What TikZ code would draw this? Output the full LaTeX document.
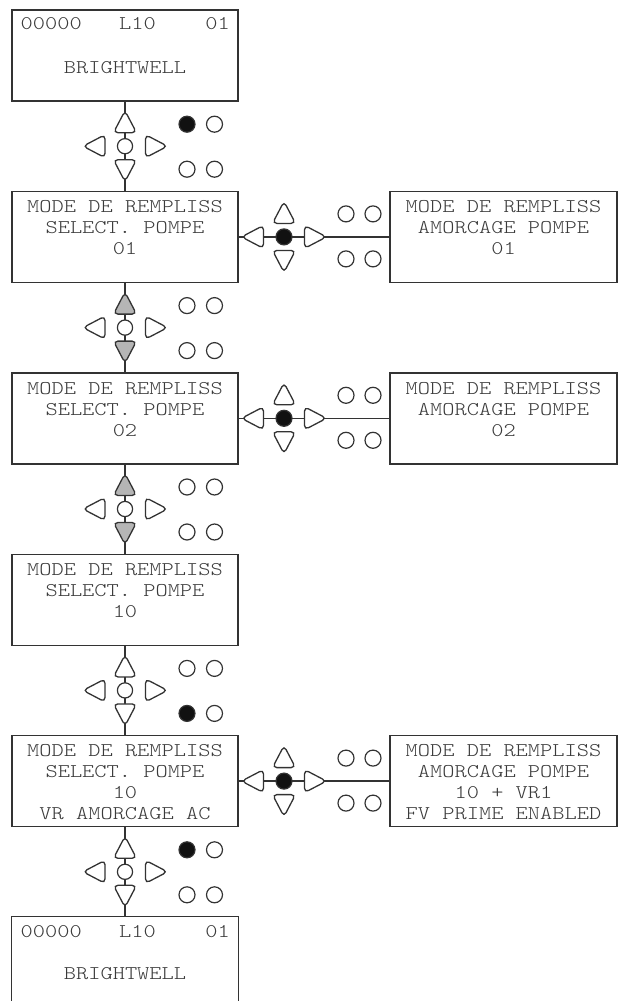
\documentclass[tikz,border=0pt]{standalone}
\usepackage{fontspec}
\newfontfamily\lcdfont[FakeStretch=1.2]{Latin Modern Mono Light}
\usetikzlibrary{calc}
\definecolor{linec}{HTML}{333333}
\definecolor{textc}{HTML}{3A3A3A}
\definecolor{keygray}{HTML}{B5B5B5}
\definecolor{ledon}{HTML}{111111}
\tikzset{
  box/.style={draw=linec, line width=0.7pt, minimum width=113pt, minimum height=45.5pt, inner sep=0pt},
  openbox/.style={box, draw=none},
  lcd/.style={font=\lcdfont\fontsize{9.7pt}{10.5pt}\selectfont, text=textc, align=center, inner sep=0pt},
  conn/.style={draw=linec, line width=0.65pt},
  keyc/.style={circle, draw=linec, line width=0.6pt, fill=white, minimum size=7.6pt, inner sep=0pt},
  led/.style={circle, draw=linec, line width=0.6pt, minimum size=8pt, inner sep=0pt},
  keyshape/.style={draw=linec, line width=0.65pt, rounded corners=2.2pt},
  pics/uarr/.style={code={\path[keyshape, fill=#1] (0,9.5) -- (11.5,9.5) -- (0,-12.5) -- (-11.5,9.5) -- cycle;}},
  pics/uarr/.default=white,
  pics/darr/.style={code={\path[keyshape, fill=#1] (0,-9.5) -- (11.5,-9.5) -- (0,12.5) -- (-11.5,-9.5) -- cycle;}},
  pics/darr/.default=white,
  pics/larr/.style={code={\path[keyshape, fill=#1] (9.5,0) -- (9.5,11.5) -- (-12.5,0) -- (9.5,-11.5) -- cycle;}},
  pics/larr/.default=white,
  pics/rarr/.style={code={\path[keyshape, fill=#1] (-9.5,0) -- (-9.5,11.5) -- (12.5,0) -- (-9.5,-11.5) -- cycle;}},
  pics/rarr/.default=white
}
% vertical keypad: #1 name, #2 y of centre key, #3 fill of up/down keys, #4-#7 LED fills
\newcommand{\vkeypad}[7]{%
  \pic at (125,#2-23) {uarr=#3};
  \pic at (125,#2+23) {darr=#3};
  \pic at (95.5,#2) {larr};
  \pic at (155,#2) {rarr};
  \node[keyc] (#1c) at (125,#2) {};
  \node[led, fill=#4] (#1la) at (187,#2-22) {};
  \node[led, fill=#5] (#1lb) at (214.5,#2-22) {};
  \node[led, fill=#6] (#1lc) at (187,#2+23) {};
  \node[led, fill=#7] (#1ld) at (214.5,#2+23) {};
}
% horizontal keypad: #1 name, #2 y of the connector
\newcommand{\hkeypad}[2]{%
  \pic at (254,#2) {larr};
  \pic at (314,#2) {rarr};
  \pic at (284,#2-23) {uarr};
  \pic at (284,#2+23) {darr};
  \node[keyc, fill=ledon, minimum size=8pt] (#1c) at (284,#2) {};
  \node[led, fill=white] (#1la) at (346,#2-23) {};
  \node[led, fill=white] (#1lb) at (373,#2-23) {};
  \node[led, fill=white] (#1lc) at (346,#2+22) {};
  \node[led, fill=white] (#1ld) at (373,#2+22) {};
}
\begin{document}
\begin{tikzpicture}[x=0.5pt, y=-0.5pt]
\useasboundingbox (0,0) rectangle (623,1001);
\coordinate (bot) at (0,1001);

% boxes
\node[box] (b1) at (125,55.5) {};
\node[box] (b2) at (125,236.9) {};
\node[box] (b3) at (125,418.3) {};
\node[box] (b4) at (125,599.7) {};
\node[box] (b5) at (125,781.1) {};
\node[openbox] (b6) at (125,962.5) {};
\node[box, minimum width=113.5pt] (r2) at (503.5,236.9) {};
\node[box, minimum width=113.5pt] (r3) at (503.5,418.3) {};
\node[box, minimum width=113.5pt] (r5) at (503.5,781.1) {};
\draw[draw=linec, line width=0.7pt] (b6.west |- bot) -- (b6.north west) -- (b6.north east) -- (b6.east |- bot);

% connectors
\draw[conn] (b1.south) -- (b2.north);
\draw[conn] (b2.south) -- (b3.north);
\draw[conn] (b3.south) -- (b4.north);
\draw[conn] (b4.south) -- (b5.north);
\draw[conn] (b5.south) -- (b6.north);
\draw[conn] (b2.east) -- (r2.west);
\draw[conn] (b3.east) -- (r3.west);
\draw[conn] (b5.east) -- (r5.west);

% keypads
\vkeypad{ka}{146.2}{white}{ledon}{white}{white}{white}
\vkeypad{kb}{327.6}{keygray}{white}{white}{white}{white}
\vkeypad{kc}{509.0}{keygray}{white}{white}{white}{white}
\vkeypad{kd}{690.4}{white}{white}{white}{ledon}{white}
\vkeypad{ke}{871.8}{white}{ledon}{white}{white}{white}
\hkeypad{ha}{236.9}
\hkeypad{hb}{418.3}
\hkeypad{hc}{781.1}

% texts
\node[lcd, anchor=west] (t1a) at ($(b1.north west)+(9,14)$) {00000};
\node[lcd] (t1b) at ($(b1.north)+(12.4,14)$) {L10};
\node[lcd, anchor=east] (t1c) at ($(b1.north east)+(-8.5,14)$) {01};
\node[lcd] (t1d) at ($(b1.north)+(0,58.5)$) {BRIGHTWELL};

\node[lcd, anchor=north] (t2) at ($(b2.north)+(0,9.5)$) {MODE DE REMPLISS\\SELECT. POMPE\\01};
\node[lcd, anchor=north] (tr2) at ($(r2.north)+(0,9.5)$) {MODE DE REMPLISS\\AMORCAGE POMPE\\01};
\node[lcd, anchor=north] (t3) at ($(b3.north)+(0,9.5)$) {MODE DE REMPLISS\\SELECT. POMPE\\02};
\node[lcd, anchor=north] (tr3) at ($(r3.north)+(0,9.5)$) {MODE DE REMPLISS\\AMORCAGE POMPE\\02};
\node[lcd, anchor=north] (t4) at ($(b4.north)+(0,9.5)$) {MODE DE REMPLISS\\SELECT. POMPE\\10};
\node[lcd, anchor=north] (t5) at ($(b5.north)+(0,9.5)$) {MODE DE REMPLISS\\SELECT. POMPE\\10\\VR AMORCAGE AC};
\node[lcd, anchor=north] (tr5) at ($(r5.north)+(0,9.5)$) {MODE DE REMPLISS\\AMORCAGE POMPE\\10 + VR1\\FV PRIME ENABLED};

\node[lcd, anchor=west] (t6a) at ($(b6.north west)+(9,15)$) {00000};
\node[lcd] (t6b) at ($(b6.north)+(12.4,15)$) {L10};
\node[lcd, anchor=east] (t6c) at ($(b6.north east)+(-8.5,15)$) {01};
\node[lcd] (t6d) at ($(b6.north)+(0,57.5)$) {BRIGHTWELL};
\end{tikzpicture}
\end{document}
